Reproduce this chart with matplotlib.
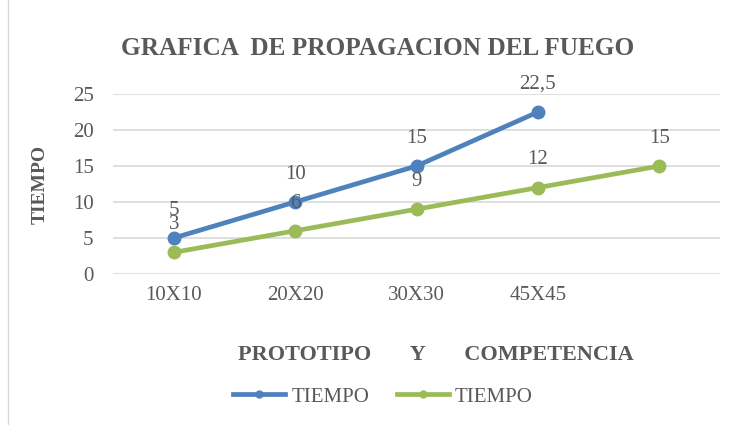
import matplotlib.pyplot as plt
from matplotlib.lines import Line2D

categories = ['10X10', '20X20', '30X30', '45X45', '']
prototipo = [5, 10, 15, 22.5]
competencia = [3, 6, 9, 12, 15]
proto_labels = ['5', '10', '15', '22,5']
comp_labels = ['3', '6', '9', '12', '15']

blue = '#4F81BD'
green = '#9BBB59'
gray = '#595959'
plt.rcParams['font.family'] = ['Liberation Serif', 'DejaVu Serif']

fig = plt.figure(figsize=(7.41, 4.25), dpi=100)
ax = fig.add_axes([0.1525, 0.3553, 0.8192, 0.4235])

x_all = list(range(len(categories)))
ax.plot(x_all[:len(prototipo)], prototipo, color=blue, lw=3.4, marker='o', ms=9,
        solid_capstyle='round', zorder=3)
ax.plot(x_all, competencia, color=green, lw=3.4, marker='o', ms=9,
        solid_capstyle='round', zorder=3)

for xi, yi, lab in zip(x_all, prototipo, proto_labels):
    ax.annotate(lab, (xi, yi), xytext=(0, 20), textcoords='offset points',
                ha='center', va='center', fontsize=15, color=gray, zorder=4)
for xi, yi, lab in zip(x_all, competencia, comp_labels):
    ax.annotate(lab, (xi, yi), xytext=(0, 20), textcoords='offset points',
                ha='center', va='center', fontsize=15, color=gray, zorder=4)

ax.set_xlim(-0.5, len(categories) - 0.5)
ax.set_ylim(0, 25)
ax.set_yticks([0, 5, 10, 15, 20, 25])
ax.set_xticks(x_all)
ax.set_xticklabels(categories)
ax.tick_params(length=0, labelsize=15, labelcolor=gray, pad=9)
ax.tick_params(axis='y', pad=14)
ax.grid(axis='y', color='#D9D9D9', lw=1.2)
ax.set_axisbelow(True)
for s in ax.spines.values():
    s.set_visible(False)

fig.text(0.509, 0.885, 'GRAFICA  DE PROPAGACION DEL FUEGO', ha='center', va='center',
         fontsize=18.2, fontweight='bold', color=gray)
fig.text(0.054, 0.565, 'TIEMPO', ha='center', va='center', rotation=90,
         fontsize=14, fontweight='bold', color=gray)
fig.text(0.588, 0.165, 'PROTOTIPO       Y       COMPETENCIA', ha='center', va='center',
         fontsize=16, fontweight='bold', color=gray)

handles = [Line2D([], [], color=blue, lw=3.4, marker='o', ms=5),
           Line2D([], [], color=green, lw=3.4, marker='o', ms=5)]
fig.legend(handles, ['TIEMPO', 'TIEMPO'], loc='center', bbox_to_anchor=(0.517, 0.066),
           ncol=2, frameon=False, fontsize=15, labelcolor=gray, handlelength=2.5,
           handletextpad=0.3, columnspacing=1.3)

fig.add_artist(Line2D([0.011, 0.011], [0.0, 1.0], color='#D9D9D9', lw=1))

fig.savefig('out.png', dpi=100)
